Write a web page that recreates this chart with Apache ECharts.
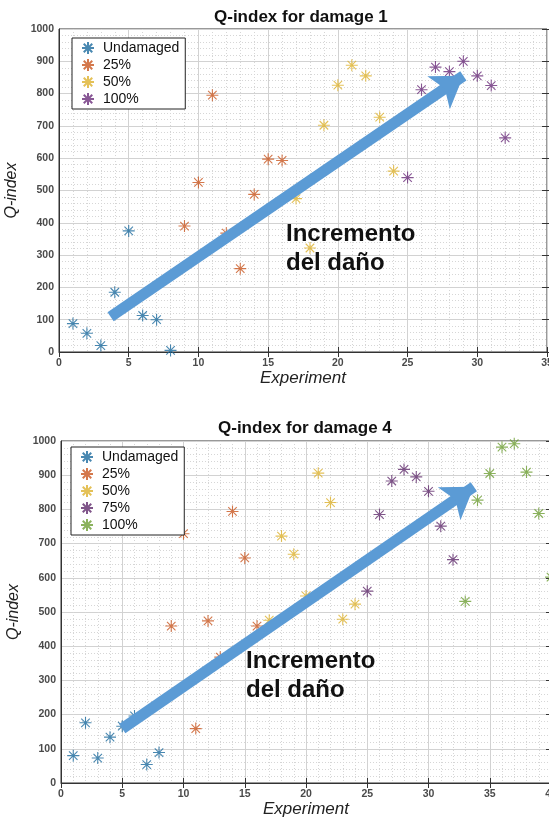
<!DOCTYPE html>
<html>
<head>
<meta charset="utf-8">
<script src="https://cdn.jsdelivr.net/npm/echarts@6/dist/echarts.min.js"></script>
<style>html,body{margin:0;padding:0;background:#fff;}#c{width:549px;height:818px;}</style>
</head>
<body>
<div id="c"></div>
<script>
// ---- Data: Q-index for damage 1 ----
const d1Undamaged = [[1,88],[2,58],[3,20],[4,185],[5,375],[6,113],[7,100],[8,5]];
const d1P25 = [[9,390],[10,525],[11,795],[12,368],[13,258],[14,488],[15,597],[16,593]];
const d1P50 = [[17,475],[18,322],[19,702],[20,826],[21,888],[22,855],[23,727],[24,560]];
const d1P100 = [[25,540],[26,812],[27,882],[28,868],[29,900],[30,855],[31,825],[32,663]];
const d1Arrow = [[3.7,109],[29,855]];

// ---- Data: Q-index for damage 4 ----
const d4Undamaged = [[1,80],[2,176],[3,73],[4,134],[5,166],[6,196],[7,54],[8,89]];
const d4P25 = [[9,459],[10,729],[11,159],[12,474],[13,368],[14,794],[15,658],[16,459]];
const d4P50 = [[17,476],[18,722],[19,669],[20,547],[21,906],[22,820],[23,479],[24,523]];
const d4P75 = [[25,561],[26,785],[27,883],[28,917],[29,895],[30,853],[31,751],[32,653]];
const d4P100 = [[33,531],[34,827],[35,905],[36,982],[37,992],[38,909],[39,788],[40,602]];
const d4Arrow = [[5,159],[33.7,866]];

const legend1 = ['Undamaged','25%','50%','100%'];
const legend4 = ['Undamaged','25%','50%','75%','100%'];
const titles = ['Q-index for damage 1','Q-index for damage 4'];
const annotation = 'Incremento\ndel daño';

const COLORS = {Undamaged:'#1C6A9E','25%':'#C9561F','50%':'#DDB12E','75%':'#5F2B6C','100%':'#6A2D7A'};
const GREEN = '#6E9F35';
const STAR = 'path://M5 0L5 10M0 5L10 5M1.46 1.46L8.54 8.54M8.54 1.46L1.46 8.54';
const FONT = 'Liberation Sans';
const GRIDS = [
  {left:59, top:29, width:488, height:323},
  {left:61, top:441, width:490, height:342}
];

function scatter(name, data, color, idx){
  return {
    type:'scatter', name:name, data:data, xAxisIndex:idx*3, yAxisIndex:idx*3,
    symbol:STAR, symbolSize:12, z:3,
    itemStyle:{color:color, borderColor:color, borderWidth:1.1},
    emphasis:{disabled:true}, animation:false
  };
}
function arrow(coords, idx){
  return {
    type:'scatter', name:'arrow'+idx, data:[], xAxisIndex:idx*3, yAxisIndex:idx*3, z:5,
    markLine:{
      silent:true, animation:false, symbol:['none','arrow'], symbolSize:[30,30],
      label:{show:false}, emphasis:{disabled:true},
      lineStyle:{color:'#5B9BD5', width:11, type:'solid', cap:'butt', opacity:1},
      data:[[{coord:coords[0]},{coord:coords[1]}]]
    }
  };
}
function tickOnly(base, position, offset){
  return Object.assign({}, base, {
    position:position, offset:offset,
    axisLine:{show:false},
    axisTick:{show:true, inside:false, length:5, lineStyle:{color:'#333', width:1}},
    axisLabel:{show:false}, splitLine:{show:false}, minorSplitLine:{show:false}
  });
}
function xAxes(gi, max){
  const base = {gridIndex:gi, type:'value', min:0, max:max, interval:5};
  const H = GRIDS[gi].height;
  return [
    Object.assign({}, base, {
      position:'bottom',
      name:'Experiment', nameLocation:'middle', nameGap:17,
      nameTextStyle:{fontFamily:FONT, fontStyle:'italic', fontSize:17, color:'#222'},
      axisLine:{show:true, lineStyle:{color:'#333', width:1}},
      axisTick:{show:false},
      axisLabel:{fontFamily:FONT, fontWeight:'bold', fontSize:10.5, color:'#4a4a4a', margin:6},
      splitLine:{show:true, lineStyle:{color:'#d2d2d2', width:1}},
      minorTick:{show:false, splitNumber:5},
      minorSplitLine:{show:true, lineStyle:{color:'#d6d6d6', type:[1,2], width:1}}
    }),
    tickOnly(base, 'top', -H),
    tickOnly(base, 'bottom', -H)
  ];
}
function yAxes(gi){
  const base = {gridIndex:gi, type:'value', min:0, max:1000, interval:100};
  const W = GRIDS[gi].width;
  return [
    Object.assign({}, base, {
      position:'left',
      name:'Q-index', nameLocation:'middle', nameGap:35,
      nameTextStyle:{fontFamily:FONT, fontStyle:'italic', fontSize:16, color:'#222'},
      axisLine:{show:true, lineStyle:{color:'#333'}},
      axisTick:{show:false},
      axisLabel:{fontFamily:FONT, fontWeight:'bold', fontSize:10.5, color:'#4a4a4a', margin:5,
                 formatter:function(v){return String(v);}},
      splitLine:{show:true, lineStyle:{color:'#d2d2d2', width:1}},
      minorTick:{show:false, splitNumber:5},
      minorSplitLine:{show:true, lineStyle:{color:'#d6d6d6', type:[1,2], width:1}}
    }),
    tickOnly(base, 'right', -W),
    tickOnly(base, 'left', -W)
  ];
}
function legend(names, prefix, left, top){
  return {
    data:names.map(n=>prefix+'|'+n), left:left, top:top, orient:'vertical',
    backgroundColor:'#fff', borderColor:'#222', borderWidth:1, borderRadius:0,
    padding:[3,6,3,9], itemGap:3, itemWidth:12, itemHeight:12,
    formatter:function(n){return n.split('|')[1];},
    textStyle:{fontFamily:FONT, fontSize:14, color:'#111', padding:[0,0,0,4]},
    selectedMode:false
  };
}

const series = [
  scatter('1|Undamaged', d1Undamaged, COLORS.Undamaged, 0),
  scatter('1|25%', d1P25, COLORS['25%'], 0),
  scatter('1|50%', d1P50, COLORS['50%'], 0),
  scatter('1|100%', d1P100, COLORS['100%'], 0),
  arrow(d1Arrow, 0),
  scatter('4|Undamaged', d4Undamaged, COLORS.Undamaged, 1),
  scatter('4|25%', d4P25, COLORS['25%'], 1),
  scatter('4|50%', d4P50, COLORS['50%'], 1),
  scatter('4|75%', d4P75, COLORS['75%'], 1),
  scatter('4|100%', d4P100, GREEN, 1),
  arrow(d4Arrow, 1)
];

const chart = echarts.init(document.getElementById('c'), null, {renderer:'canvas'});
chart.setOption({
  animation:false,
  backgroundColor:'#fff',
  title:[
    {text:titles[0], left:214, top:9, padding:0, textStyle:{fontFamily:FONT, fontWeight:'bold', fontSize:17, color:'#111'}},
    {text:titles[1], left:218, top:420, padding:0, textStyle:{fontFamily:FONT, fontWeight:'bold', fontSize:17, color:'#111'}}
  ],
  grid:GRIDS.map(g=>Object.assign({show:true, borderColor:'#333', borderWidth:1, backgroundColor:'#fff', outerBoundsMode:'none', containLabel:false}, g)),
  xAxis: xAxes(0,35).concat(xAxes(1,40)),
  yAxis: yAxes(0).concat(yAxes(1)),
  legend:[legend(legend1,'1',72,38), legend(legend4,'4',71,447)],
  series:series,
  graphic:[
    {type:'text', x:286, y:220, z:100, style:{text:annotation, fontFamily:FONT, fontWeight:'bold', fontSize:24, lineHeight:29, fill:'#111'}},
    {type:'text', x:246, y:647, z:100, style:{text:annotation, fontFamily:FONT, fontWeight:'bold', fontSize:24, lineHeight:29, fill:'#111'}}
  ]
});
</script>
</body>
</html>
